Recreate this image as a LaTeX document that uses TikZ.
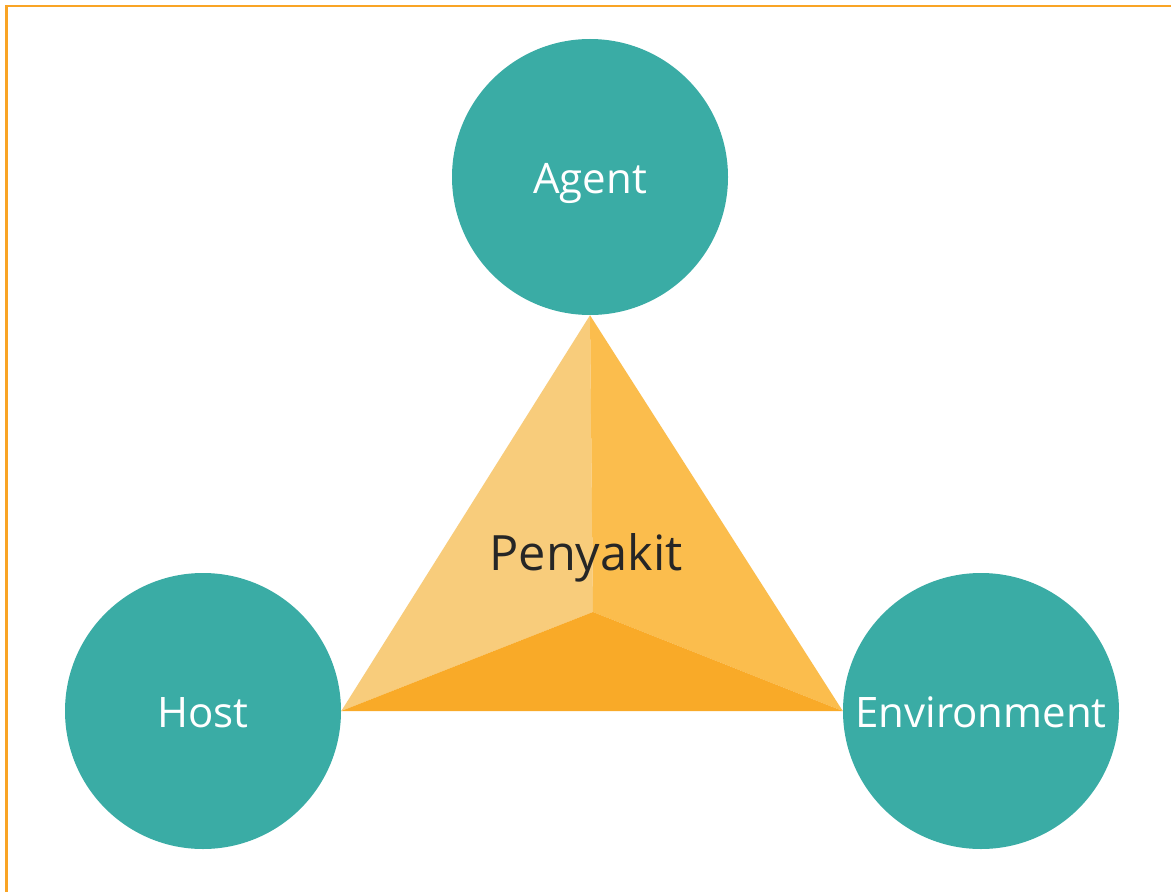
\documentclass[tikz,border=0pt]{standalone}
\usepackage{fontspec}
\setmainfont{Open Sans}
\definecolor{teal1}{HTML}{3AACA5}
\definecolor{frameorange}{HTML}{F9A425}
\definecolor{faceleft}{HTML}{F8CC7B}
\definecolor{faceright}{HTML}{FBBD4D}
\definecolor{facebottom}{HTML}{F9AA28}
\definecolor{textdark}{HTML}{262626}
\tikzset{
  factor/.style={circle,fill=teal1,inner sep=0pt,minimum size=207pt,
    text=white,font=\fontsize{31.5}{36}\selectfont,
    text height=25pt,text depth=0pt},
}
\begin{document}
\begin{tikzpicture}[x=0.75pt,y=-0.75pt]
    \useasboundingbox[fill=white] (0,0) rectangle (1171,892);
    % frame lines (top and left only)
    \draw[frameorange,line width=1.8pt] (6.5,892) -- (6.5,6) -- (1171,6);

    \node[factor] at (590,177) (agent) {Agent};
    \node[factor] at (203,711) (host) {Host};
    \node[factor] at (981,711) (env) {Environment};

    \coordinate (top) at (agent.south);
    \coordinate (left) at (host.east);
    \coordinate (right) at (env.west);
    \coordinate (mid) at (593,612);

    \fill[faceleft] (top) -- (mid) -- (left) -- cycle;
    \fill[faceright] (top) -- (right) -- (mid) -- cycle;
    \fill[facebottom] (left) -- (mid) -- (right) -- cycle;

    \node[text=textdark,font=\fontsize{36.5}{42}\selectfont,anchor=base] at (586,570) (disease) {Penyakit};
\end{tikzpicture}
\end{document}
